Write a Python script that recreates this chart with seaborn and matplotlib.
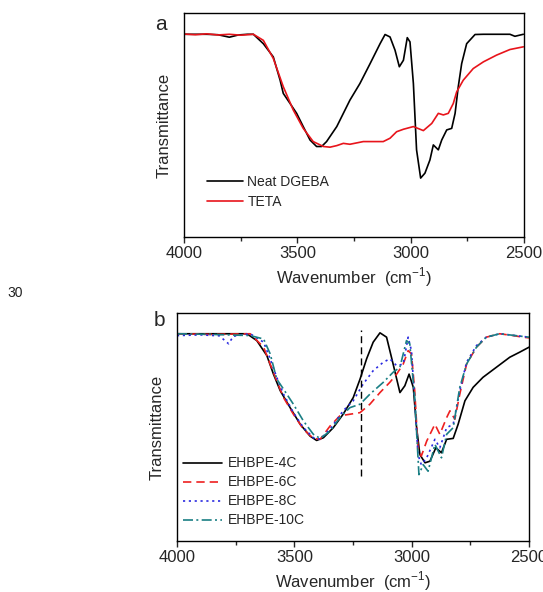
import numpy as np
import pandas as pd
import matplotlib
matplotlib.use("Agg")
import matplotlib.pyplot as plt
import seaborn as sns

# ---- panel a : raw components (transmittance, arbitrary units) ----
dgeba_wn = [4000, 3900, 3850, 3800, 3760, 3720, 3694, 3650, 3606, 3576, 3562, 3532,
            3503, 3474, 3444, 3415, 3393, 3371, 3326, 3268, 3224, 3179, 3135, 3113,
            3091, 3069, 3050, 3032, 3015, 3003, 2988, 2974, 2956, 2937, 2915, 2900,
            2878, 2863, 2841, 2819, 2804, 2790, 2775, 2753, 2716, 2679, 2562, 2540, 2503]
dgeba_t = [90.5, 90.5, 90.3, 89.2, 90.2, 90.5, 90.5, 86.3, 80.4, 70.0, 64.1, 59.6,
           55.2, 49.3, 43.3, 40.4, 40.4, 42.6, 49.3, 61.1, 68.5, 77.4, 86.3, 90.4,
           89.3, 83.4, 76.0, 78.9, 89.0, 87.1, 68.5, 38.9, 26.3, 28.5, 34.4, 41.1,
           38.9, 43.3, 47.8, 48.5, 55.2, 67.1, 77.4, 86.3, 90.4, 90.5, 90.5, 89.6, 90.5]

teta_wn = [4000, 3950, 3900, 3850, 3800, 3750, 3694, 3650, 3606, 3562, 3518, 3474,
           3430, 3385, 3356, 3326, 3297, 3268, 3209, 3121, 3091, 3062, 3032, 2988,
           2944, 2907, 2878, 2856, 2834, 2812, 2797, 2768, 2724, 2679, 2621, 2562, 2503]
teta_t = [90.6, 90.3, 90.7, 90.2, 90.5, 90.1, 90.5, 87.8, 79.7, 67.1, 56.7, 48.5,
          42.6, 40.4, 40.1, 40.8, 41.8, 41.4, 42.6, 42.6, 44.1, 47.0, 48.1, 49.3,
          47.5, 50.7, 55.2, 54.5, 55.2, 59.6, 64.8, 70.0, 75.2, 78.2, 81.2, 83.7, 84.9]

# ---- panel b : EHBPE samples ----
c4_wn = [4000, 3850, 3702, 3660, 3617, 3589, 3560, 3518, 3475, 3433, 3405, 3376,
         3334, 3292, 3249, 3220, 3192, 3164, 3135, 3107, 3079, 3050, 3029, 3011,
         2993, 2979, 2965, 2943, 2922, 2897, 2873, 2851, 2823, 2802, 2773, 2738,
         2696, 2639, 2582, 2540, 2500]
c4_t = [90.9, 90.9, 90.9, 87.9, 81.3, 73.2, 65.9, 58.5, 51.2, 46.0, 44.1, 45.3,
        49.7, 55.6, 62.9, 71.0, 79.9, 87.2, 91.3, 89.4, 77.6, 65.1, 68.1, 73.2,
        67.4, 49.7, 37.9, 34.3, 35.0, 40.9, 38.7, 44.6, 45.0, 51.2, 61.5, 67.4,
        71.8, 76.2, 80.6, 82.8, 85.0]

c6_wn = [4000, 3850, 3688, 3631, 3603, 3575, 3546, 3504, 3461, 3419, 3390, 3348,
         3306, 3263, 3220, 3178, 3135, 3093, 3064, 3036, 3015, 3001, 2987, 2973,
         2959, 2936, 2901, 2880, 2851, 2837, 2816, 2795, 2766, 2724, 2682, 2625,
         2568, 2526, 2500]
c6_t = [90.9, 90.6, 90.9, 85.0, 77.6, 70.3, 62.9, 55.6, 49.0, 45.0, 44.6, 50.4,
        54.9, 55.6, 56.3, 60.0, 65.1, 69.6, 73.2, 77.6, 83.5, 82.1, 65.9, 40.9,
        37.2, 43.8, 51.2, 46.8, 54.1, 57.1, 53.4, 64.4, 77.6, 85.0, 89.4, 90.9,
        90.1, 89.4, 89.1]

c8_wn = [4000, 3900, 3820, 3780, 3760, 3688, 3631, 3603, 3575, 3546, 3504, 3461,
         3419, 3390, 3348, 3292, 3249, 3207, 3164, 3121, 3093, 3064, 3036, 3015,
         3001, 2987, 2973, 2959, 2936, 2901, 2880, 2851, 2823, 2795, 2766, 2724,
         2682, 2625, 2500]
c8_t = [90.1, 90.4, 90.0, 86.5, 89.8, 90.9, 87.2, 79.9, 71.8, 64.4, 56.3, 49.7,
        45.3, 44.6, 49.0, 57.1, 61.5, 68.8, 74.7, 78.4, 79.9, 76.9, 77.6, 89.4,
        83.5, 61.5, 37.9, 33.5, 36.5, 44.6, 40.9, 49.7, 51.2, 65.9, 78.4, 85.7,
        89.4, 90.9, 89.4]

c10_wn = [4000, 3850, 3688, 3631, 3603, 3575, 3546, 3504, 3461, 3419, 3390, 3348,
          3306, 3263, 3220, 3178, 3121, 3079, 3050, 3022, 3008, 2987, 2969, 2951,
          2930, 2901, 2873, 2851, 2823, 2795, 2766, 2724, 2682, 2625, 2500]
c10_t = [90.9, 90.6, 90.1, 88.6, 82.1, 71.0, 66.6, 60.0, 52.6, 46.8, 45.0, 48.2,
         54.1, 58.5, 60.0, 64.4, 69.6, 74.0, 76.2, 87.9, 86.5, 63.0, 29.1, 33.5,
         30.6, 42.4, 36.5, 46.8, 49.7, 67.4, 77.6, 85.0, 89.4, 90.9, 89.4]

marker_wn = 3216
marker_span = (28.4, 92.6)

xticks_major = [4000, 3500, 3000, 2500]
xticks_minor = [3750, 3250, 2750]

sns.set_style("ticks")
plt.rcParams["font.family"] = ["Liberation Sans", "DejaVu Sans"]
plt.rcParams["mathtext.fontset"] = "custom"
plt.rcParams["mathtext.rm"] = "Liberation Sans"

fig = plt.figure(figsize=(5.43, 5.92), dpi=100)
ax_a = fig.add_axes([184 / 543, 1 - 237 / 592, 340 / 543, 224 / 592])
ax_b = fig.add_axes([177 / 543, 1 - 541 / 592, 352 / 543, 228 / 592])

panel_a = [("Neat DGEBA", dgeba_wn, dgeba_t, "black", "-"),
           ("TETA", teta_wn, teta_t, "#e8141b", "-")]
panel_b = [("EHBPE-4C", c4_wn, c4_t, "black", "-"),
           ("EHBPE-6C", c6_wn, c6_t, "#ee2020", (0, (5, 3))),
           ("EHBPE-8C", c8_wn, c8_t, "#2a2ae0", (0, (1.3, 2.2))),
           ("EHBPE-10C", c10_wn, c10_t, "#1a7f84", (0, (6, 2, 1.2, 2)))]

for ax, series in [(ax_a, panel_a), (ax_b, panel_b)]:
    for name, wn, t, col, ls in series:
        df = pd.DataFrame({"wn": wn, "t": t})
        sns.lineplot(data=df, x="wn", y="t", ax=ax, color=col, linestyle=ls,
                     linewidth=1.2, label=name, sort=False)

ax_b.vlines(marker_wn, *marker_span, colors="black", linestyles=(0, (5, 3)), linewidth=1.0)

for ax in (ax_a, ax_b):
    ax.set_xlim(4000, 2500)
    ax.set_ylim(0, 100)
    ax.set_xticks(xticks_major)
    ax.set_xticks(xticks_minor, minor=True)
    ax.set_yticks([])
    ax.tick_params(axis="x", which="major", direction="out", length=4.5, width=1,
                   labelsize=12, pad=2)
    ax.tick_params(axis="x", which="minor", direction="out", length=3, width=1)
    for s in ax.spines.values():
        s.set_visible(True)
        s.set_linewidth(1.0)
        s.set_color("black")
    ax.set_xlabel("Wavenumber  (cm$^{-1}$)", fontsize=12, labelpad=3)
    ax.set_ylabel("Transmittance", fontsize=12, labelpad=9)

ax_a.legend(loc="center left", bbox_to_anchor=(0.068, 0.20), frameon=False,
            fontsize=10, handlelength=2.6, handletextpad=0.3, labelspacing=0.45,
            borderpad=0, borderaxespad=0)
ax_b.legend(loc="center left", bbox_to_anchor=(0.017, 0.215), frameon=False,
            fontsize=10, handlelength=2.8, handletextpad=0.4, labelspacing=0.36,
            borderpad=0, borderaxespad=0)

fig.text(161 / 543, 1 - 24 / 592, "a", fontsize=15, ha="center", va="center")
fig.text(159 / 543, 1 - 321 / 592, "b", fontsize=15, ha="center", va="center")
fig.text(15 / 543, 1 - 293 / 592, "30", fontsize=10, ha="center", va="center", color="#222222")

fig.savefig("out.png", dpi=100)
